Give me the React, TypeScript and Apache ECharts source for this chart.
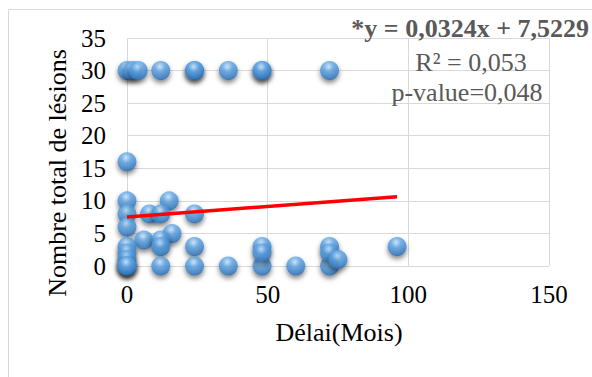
import React, { useEffect, useRef } from "react";
import * as echarts from "echarts";

const delaiMois: number[] = [
  0, 2, 4, 12, 24, 24, 36, 48, 48, 72,
  0,
  0, 15,
  0, 8, 12, 24,
  0,
  16, 6, 12, 12, 24,
  0, 0, 0, 0, 0, 0,
  12, 24, 36, 48, 60, 72,
  48, 48, 72, 72, 75, 96,
];
const nombreLesions: number[] = [
  30, 30, 30, 30, 30, 30, 30, 30, 30, 30,
  16,
  10, 10,
  8, 8, 8, 8,
  6,
  5, 4, 4, 3, 3,
  3, 2, 1, 0, 0, 0,
  0, 0, 0, 0, 0, 0,
  3, 2, 3, 2, 1, 3,
];
const slope = 0.0324;
const intercept = 7.5229;
const trendX: number[] = [0, 96];
const xTicks = { min: 0, max: 150, interval: 50 };
const yTicks = { min: 0, max: 35, interval: 5 };

const FONT = "Liberation Serif";

export default function App() {
  const ref = useRef<HTMLDivElement>(null);
  useEffect(() => {
    if (!ref.current) return;
    const chart = echarts.init(ref.current, undefined, { renderer: "svg" });
    const points = delaiMois.map((x, i) => [x, nombreLesions[i]]);
    const trend = trendX.map((x) => [x, slope * x + intercept]);
    const txt = (size: number, bold = false) => ({
      fontFamily: FONT,
      fontSize: size,
      fontWeight: bold ? "bold" : "normal",
    });
    chart.setOption({
      animation: false,
      backgroundColor: "#ffffff",
      textStyle: { fontFamily: FONT },
      grid: { left: 127, right: 43, top: 38, bottom: 111 },
      xAxis: {
        type: "value",
        min: xTicks.min,
        max: xTicks.max,
        interval: xTicks.interval,
        axisLine: { show: false },
        axisTick: { show: false },
        splitLine: { show: true, lineStyle: { color: "#d9d9d9", width: 1 } },
        axisLabel: { color: "#000", fontFamily: FONT, fontSize: 25, margin: 16 },
      },
      yAxis: {
        type: "value",
        min: yTicks.min,
        max: yTicks.max,
        interval: yTicks.interval,
        axisLine: { show: false },
        axisTick: { show: false },
        splitLine: { show: true, lineStyle: { color: "#d9d9d9", width: 1 } },
        axisLabel: { color: "#000", fontFamily: FONT, fontSize: 25, margin: 21 },
      },
      graphic: [
        {
          type: "rect",
          shape: { x: 8.5, y: 9.5, width: 700, height: 500 },
          style: { fill: "none", stroke: "#d9d9d9", lineWidth: 1 },
          silent: true,
          z: -10,
        },
        {
          type: "text",
          x: 57,
          y: 173,
          rotation: Math.PI / 2,
          style: {
            text: "Nombre total de lésions",
            ...txt(26),
            fill: "#000",
            align: "center",
            verticalAlign: "middle",
          },
        },
        {
          type: "text",
          x: 339,
          y: 332,
          style: {
            text: "Délai(Mois)",
            ...txt(26),
            fill: "#000",
            align: "center",
            verticalAlign: "middle",
          },
        },
        {
          type: "text",
          x: 589,
          y: 28,
          z: 100,
          style: {
            text: "*y = 0,0324x + 7,5229",
            ...txt(26, true),
            fill: "#595959",
            align: "right",
            verticalAlign: "middle",
          },
        },
        {
          type: "text",
          x: 471,
          y: 62,
          z: 100,
          style: {
            text: "R² = 0,053",
            ...txt(26),
            fill: "#595959",
            align: "center",
            verticalAlign: "middle",
          },
        },
        {
          type: "text",
          x: 467,
          y: 92,
          z: 100,
          style: {
            text: "p-value=0,048",
            ...txt(26),
            fill: "#595959",
            align: "center",
            verticalAlign: "middle",
          },
        },
      ],
      series: [
        {
          type: "scatter",
          data: points,
          symbol: "circle",
          symbolSize: 19,
          z: 2,
          itemStyle: {
            color: {
              type: "radial",
              x: 0.45,
              y: 0.3,
              r: 0.75,
              colorStops: [
                { offset: 0, color: "#cfe8ff" },
                { offset: 0.35, color: "#62a8e6" },
                { offset: 0.8, color: "#3a7fc6" },
                { offset: 1, color: "#245487" },
              ],
            },
            shadowBlur: 5,
            shadowColor: "rgba(0,0,0,0.6)",
            shadowOffsetY: 3,
          },
        },
        {
          type: "line",
          data: trend,
          symbol: "none",
          z: 5,
          lineStyle: { color: "#ff0000", width: 3.5 },
        },
      ],
    });
    return () => chart.dispose();
  }, []);
  return (
    <div
      ref={ref}
      style={{ position: "fixed", left: 0, top: 0, width: 592, height: 377 }}
    />
  );
}
